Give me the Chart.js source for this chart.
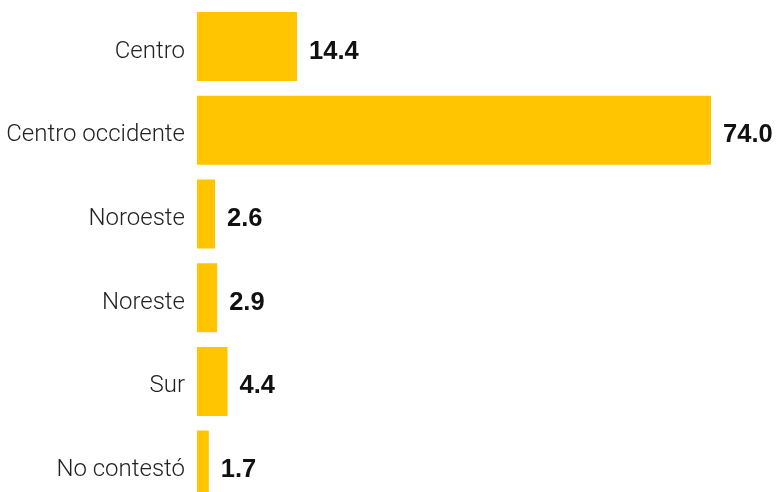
<!DOCTYPE html>
<html>
<head>
<meta charset="utf-8">
<script src="https://cdn.jsdelivr.net/npm/chart.js@4/dist/chart.umd.min.js"></script>
<style>
html,body{margin:0;padding:0;background:#fff;overflow:hidden;}
canvas{display:block;}
</style>
</head>
<body>
<canvas id="c" width="776" height="507"></canvas>
<script>
const categories = ["Centro", "Centro occidente", "Noroeste", "Noreste", "Sur", "No contestó"];
const values = [14.4, 74.0, 2.6, 2.9, 4.4, 1.7];
const barColor = "#FFC500";

const valueLabels = {
  id: "valueLabels",
  afterDatasetsDraw(chart) {
    const ctx = chart.ctx;
    const meta = chart.getDatasetMeta(0);
    ctx.save();
    ctx.font = "bold 25.5px 'Liberation Sans', Arial, sans-serif";
    ctx.fillStyle = "#111";
    ctx.textAlign = "left";
    ctx.textBaseline = "middle";
    meta.data.forEach((bar, i) => {
      ctx.fillText(values[i].toFixed(1), bar.x + 12, bar.y + 5);
    });
    ctx.restore();
  }
};

new Chart(document.getElementById("c"), {
  type: "bar",
  data: {
    labels: categories,
    datasets: [{
      data: values,
      backgroundColor: barColor,
      borderWidth: 0,
      barPercentage: 0.825,
      categoryPercentage: 1
    }]
  },
  options: {
    indexAxis: "y",
    responsive: false,
    maintainAspectRatio: false,
    animation: false,
    devicePixelRatio: 1,
    layout: { padding: { top: 4.7, bottom: 0, left: 0, right: 23.3 } },
    plugins: { legend: { display: false }, tooltip: { enabled: false } },
    scales: {
      x: {
        min: 0, max: 80,
        display: false,
        grid: { display: false }
      },
      y: {
        grid: { display: false, drawTicks: false },
        border: { display: false },
        afterFit(scale) { scale.width = 197; scale.paddingTop = 0; scale.paddingBottom = 0; },
        ticks: {
          padding: 12,
          labelOffset: 5,
          color: "#222",
          font: { family: "Roboto, 'Liberation Sans', sans-serif", size: 24, weight: "300" }
        }
      }
    }
  },
  plugins: [valueLabels]
});
</script>
</body>
</html>
